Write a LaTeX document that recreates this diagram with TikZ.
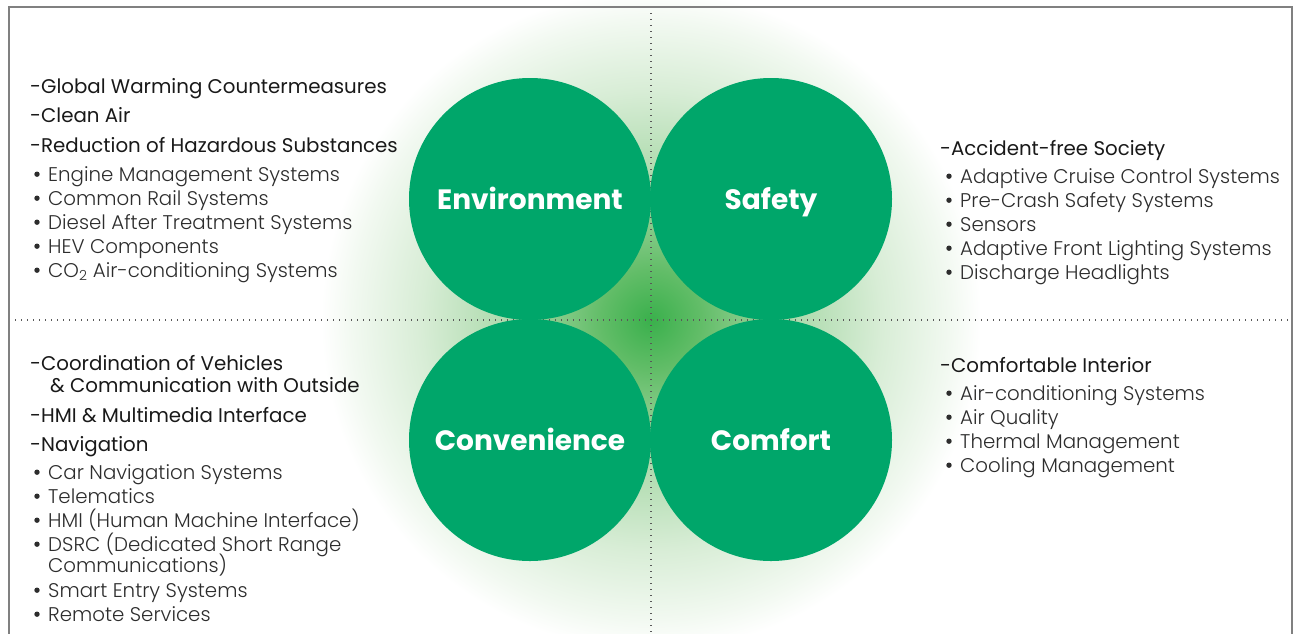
\documentclass[tikz,border=0pt]{standalone}
\usepackage{fontspec}
\setmainfont{Poppins}
\newfontfamily\lightfont{Poppins Light}
\newfontfamily\heavyfont{Poppins Bold}
\usepackage{tikz}

\definecolor{leaf}{RGB}{0,166,106}
\definecolor{glowA}{RGB}{58,176,76}
\definecolor{glowB}{RGB}{98,189,104}
\definecolor{glowC}{RGB}{165,215,165}
\definecolor{glowD}{RGB}{216,237,214}
\definecolor{glowE}{RGB}{242,249,241}
\definecolor{framegray}{RGB}{128,128,128}
\definecolor{ink}{RGB}{25,25,25}
\definecolor{softink}{RGB}{45,45,45}

\pgfdeclareradialshading{haze}{\pgfpoint{0bp}{0bp}}{color(0bp)=(glowA); color(3.8bp)=(glowB); color(9.8bp)=(glowC); color(17.4bp)=(glowD); color(22.7bp)=(glowE); color(25bp)=(white); color(50bp)=(white)}

\begin{document}
\begin{tikzpicture}[x=1pt,y=-1pt]
        \tikzset{topic/.style = {shape=circle,fill=leaf,minimum size=242pt,inner sep=0pt,text=white,
                text height=20pt,text depth=0pt,font=\heavyfont\fontsize{28}{28}\selectfont}}
        \tikzset{head/.style = {anchor=base west,inner sep=0pt,text=ink,font=\fontsize{19.8}{20}\selectfont}}
        \tikzset{item/.style = {anchor=base west,inner sep=0pt,text=softink,font=\lightfont\fontsize{19.8}{20}\selectfont}}
        \tikzset{bullet/.style = {fill=softink}}
        \tikzset{divider/.style = {draw=black!65,line width=1.1pt,dash pattern=on 1.1pt off 4.9pt}}

        \useasboundingbox (0,0) rectangle (1294,633);
        \clip (0,0) rectangle (1294,633);

        % glow behind the four circles
        \shade[shading=haze] (651,320) circle (330);

        \coordinate (W) at (9,320);
        \coordinate (E) at (1292,320);
        \coordinate (N) at (651,7);
        \coordinate (S) at (651,633);
        \draw[divider] (W) -- (E);
        \draw[divider] (N) -- (S);

        \draw[draw=framegray,line width=1.6pt] (9,7) rectangle (1292,660);

        \node[topic] (env) at (530,199) {Environment};
        \node[topic] (saf) at (771,199) {Safety};
        \node[topic] (conv) at (530,440) {Convenience};
        \node[topic] (comf) at (771,440) {Comfort};

        % environment
        \node[head] (envH1) at (30,93) {-Global Warming Countermeasures};
        \node[head] (envH2) at (30,122) {-Clean Air};
        \node[head] (envH3) at (30,152) {-Reduction of Hazardous Substances};
        \foreach \y/\t in {181/Engine Management Systems,205/Common Rail Systems,
                229/Diesel After Treatment Systems,253/HEV Components,
                277/{CO\textsubscript{2} Air-conditioning Systems}} {
            \node[item] (env\y) at (48,\y) {\t};
            \fill[bullet] ([shift={(-11pt,6.8pt)}]env\y.base west) circle (2.7);
        }

        % safety
        \node[head] (safH1) at (940,155) {-Accident-free Society};
        \foreach \y/\t in {183/Adaptive Cruise Control Systems,207/Pre-Crash Safety Systems,
                231/Sensors,255/Adaptive Front Lighting Systems,279/Discharge Headlights} {
            \node[item] (saf\y) at (960,\y) {\t};
            \fill[bullet] ([shift={(-11pt,6.8pt)}]saf\y.base west) circle (2.7);
        }

        % convenience
        \node[head] (convH1) at (30,370) {-Coordination of Vehicles};
        \node[head] (convH2) at (50,392) {\& Communication with Outside};
        \node[head] (convH3) at (30,422) {-HMI \& Multimedia Interface};
        \node[head] (convH4) at (30,451) {-Navigation};
        \foreach \y/\t in {479/Car Navigation Systems,503/Telematics,
                527/HMI (Human Machine Interface),551/DSRC (Dedicated Short Range,
                597/Smart Entry Systems,621/Remote Services} {
            \node[item] (conv\y) at (48,\y) {\t};
            \fill[bullet] ([shift={(-11pt,6.8pt)}]conv\y.base west) circle (2.7);
        }
        \node[item] (conv572) at (48,572) {Communications)};

        % comfort
        \node[head] (comfH1) at (940,372) {-Comfortable Interior};
        \foreach \y/\t in {400/Air-conditioning Systems,424/Air Quality,
                448/Thermal Management,472/Cooling Management} {
            \node[item] (comf\y) at (960,\y) {\t};
            \fill[bullet] ([shift={(-11pt,6.8pt)}]comf\y.base west) circle (2.7);
        }
\end{tikzpicture}
\end{document}
